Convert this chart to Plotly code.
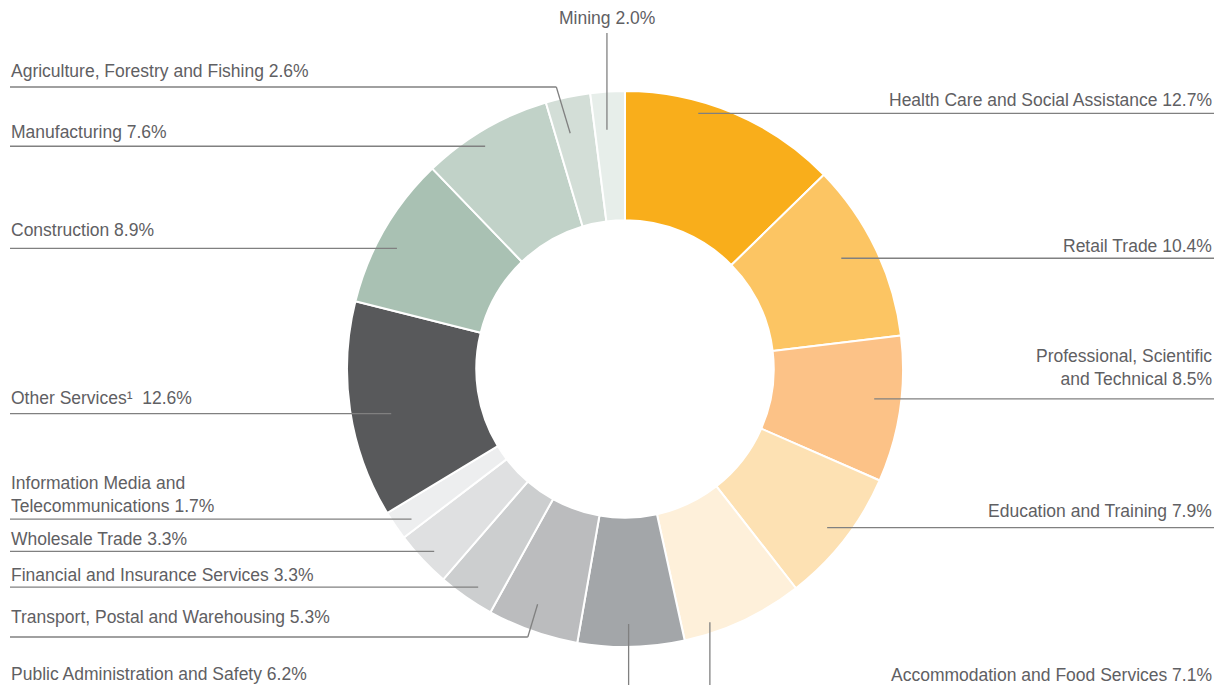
import math
import plotly.graph_objects as go

# ---------------- data ----------------
industries = [
    "Health Care and Social Assistance",
    "Retail Trade",
    "Professional, Scientific and Technical",
    "Education and Training",
    "Accommodation and Food Services",
    "Public Administration and Safety",
    "Transport, Postal and Warehousing",
    "Financial and Insurance Services",
    "Wholesale Trade",
    "Information Media and Telecommunications",
    "Other Services",
    "Construction",
    "Manufacturing",
    "Agriculture, Forestry and Fishing",
    "Mining",
]
shares = [12.7, 10.4, 8.5, 7.9, 7.1, 6.2, 5.3, 3.3, 3.3, 1.7, 12.6, 8.9, 7.6, 2.6, 2.0]
label_names = [
    "Health Care and Social Assistance",
    "Retail Trade",
    "Professional, Scientific<br>and Technical",
    "Education and Training",
    "Accommodation and Food Services",
    "Public Administration and Safety",
    "Transport, Postal and Warehousing",
    "Financial and Insurance Services",
    "Wholesale Trade",
    "Information Media and<br>Telecommunications",
    "Other Services¹ ",
    "Construction",
    "Manufacturing",
    "Agriculture, Forestry and Fishing",
    "Mining",
]

# ---------------- styles ----------------
colors = [
    "#F9AE1B", "#FCC563", "#FCC287", "#FDE1B3", "#FEF0DA",
    "#A3A6A9", "#BBBCBE", "#CCCECF", "#DFE0E1", "#EDEEEF",
    "#58595B", "#A9C1B3", "#C1D2C8", "#D3DED7", "#E7EEEA",
]

W, H = 1218, 685
CX, CY, R = 625, 369, 278
HOLE = 0.535
TEXT_COLOR = "#5f6063"
LINE_COLOR = "#808080"
FONT = "Liberation Sans, Arial, sans-serif"
FS = 17.5

# leader-line layout: where inside each slice the line ends
anchor_frac = [0.35, 0.46, 0.45, 0.51, 0.76, 0.52, 0.55, 0.42, 0.46, 0.36, 0.45, 0.43, 0.43, 0.37, 0.40]
anchor_rad = [266, 243, 251, 257, 267, 255, 251, 263, 264, 261, 238, 258, 263, 242, 240]
# side of label: 'right', 'left', 'up', 'down-left', 'down-right'
sides = ["right", "right", "right", "right", "down-right", "down-left", "left", "left",
         "left", "left", "left", "left", "left", "left", "up"]
knee_y = [None, None, None, None, None, None, 637, None, None, None, None, None, None, 87, None]
label_y = [100, 246, 367, 511, 675, 674, 617, 575, 539, 494, 398, 230, 132, 71, 18]
LEFT_X, RIGHT_X = 9, 1214


def px(x):
    return x / W


def py(y):
    return 1 - y / H


fig = go.Figure(
    go.Pie(
        labels=industries,
        values=shares,
        sort=False,
        direction="clockwise",
        rotation=0,
        hole=HOLE,
        marker=dict(colors=colors, line=dict(color="white", width=2)),
        textinfo="none",
        hoverinfo="label+percent",
        showlegend=False,
        domain=dict(x=[px(CX - R), px(CX + R)], y=[py(CY + R), py(CY - R)]),
    )
)

total = sum(shares)
shapes = []
annotations = []
cum = 0.0
for i, v in enumerate(shares):
    theta = math.radians(360 * (cum + anchor_frac[i] * v) / total)
    cum += v
    ax = CX + anchor_rad[i] * math.sin(theta)
    ay = CY - anchor_rad[i] * math.cos(theta)
    side = sides[i]
    segs = []
    if side == "right":
        segs.append((ax, ay, RIGHT_X, ay))
        ann = dict(x=px(RIGHT_X), xanchor="right", align="right")
    elif side == "left":
        if knee_y[i] is not None:
            kx = ax - abs(knee_y[i] - ay) * 0.3
            segs.append((LEFT_X + 1, knee_y[i], kx, knee_y[i]))
            segs.append((kx, knee_y[i], ax, ay))
        else:
            segs.append((LEFT_X + 1, ay, ax, ay))
        ann = dict(x=px(LEFT_X), xanchor="left", align="left")
    elif side == "up":
        segs.append((ax, ay, ax, 33))
        ann = dict(x=px(ax), xanchor="center", align="center")
    elif side == "down-left":
        segs.append((ax, ay, ax, H))
        ann = dict(x=px(LEFT_X), xanchor="left", align="left")
    else:  # down-right
        segs.append((ax, ay, ax, H))
        ann = dict(x=px(RIGHT_X), xanchor="right", align="right")
    for (x0, y0, x1, y1) in segs:
        shapes.append(dict(type="line", xref="paper", yref="paper",
                           x0=px(x0), y0=py(y0), x1=px(x1), y1=py(y1),
                           line=dict(color=LINE_COLOR, width=1.3)))
    ann.update(dict(
        xref="paper", yref="paper", y=py(label_y[i]), yanchor="middle",
        text=f"{label_names[i]} {v:.1f}%", showarrow=False,
        font=dict(family=FONT, size=FS, color=TEXT_COLOR),
    ))
    annotations.append(ann)

fig.update_layout(
    width=W, height=H, autosize=False,
    margin=dict(l=0, r=0, t=0, b=0),
    paper_bgcolor="white", plot_bgcolor="white",
    shapes=shapes, annotations=annotations,
)

fig.write_html("out.html", config={"displayModeBar": False},
               post_script="document.body.style.margin='0';")
